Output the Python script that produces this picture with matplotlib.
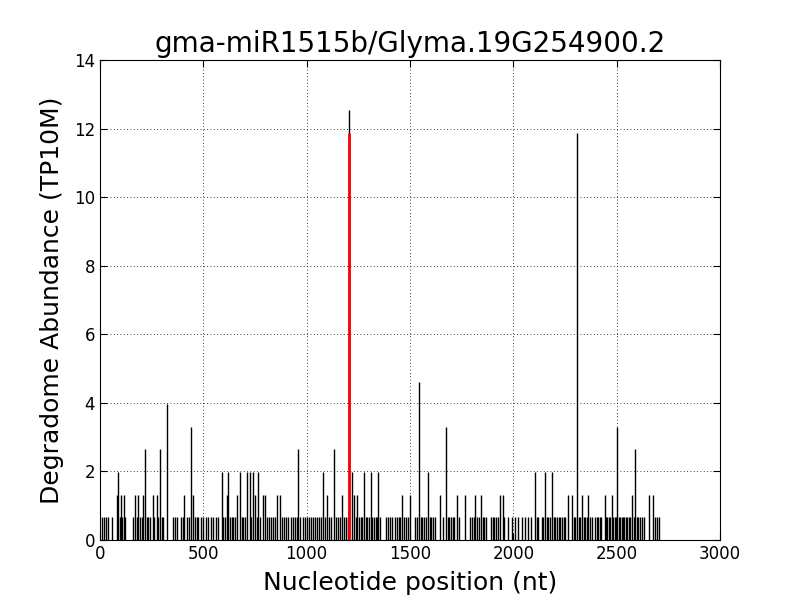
import numpy as np
import matplotlib
matplotlib.use("Agg")
import matplotlib.pyplot as plt

# ── Data: degradome tag positions (nt) grouped by abundance (TP10M) ──────────
TITLE = "gma-miR1515b/Glyma.19G254900.2"

pos_066 = [8, 19, 29, 40, 56, 95, 106, 122, 161, 177, 194, 202, 226, 234, 242, 261,
           282, 298, 306, 352, 363, 374, 392, 400, 419, 429, 460, 468, 476, 487,
           500, 511, 524, 535, 548, 561, 573, 597, 605, 629, 637, 645, 653, 685,
           693, 702, 729, 758, 776, 808, 816, 826, 835, 845, 880, 890, 902, 912,
           922, 932, 942, 952, 970, 980, 990, 1000, 1010, 1020, 1030, 1040, 1050,
           1060, 1070, 1090, 1110, 1120, 1142, 1152, 1160, 1180, 1190, 1198, 1237,
           1255, 1263, 1270, 1286, 1294, 1302, 1318, 1326, 1334, 1340, 1355, 1385,
           1395, 1405, 1415, 1425, 1435, 1445, 1452, 1470, 1480, 1488, 1524, 1532,
           1552, 1560, 1568, 1576, 1596, 1604, 1612, 1620, 1661, 1682, 1690, 1698,
           1706, 1714, 1735, 1792, 1800, 1808, 1824, 1832, 1852, 1860, 1868, 1892,
           1900, 1908, 1916, 1924, 1957, 1976, 1992, 2008, 2024, 2040, 2056, 2072,
           2086, 2113, 2121, 2138, 2145, 2162, 2170, 2178, 2195, 2203, 2212, 2220,
           2228, 2236, 2244, 2252, 2292, 2300, 2316, 2324, 2340, 2348, 2356, 2370,
           2380, 2395, 2403, 2411, 2418, 2424, 2448, 2455, 2463, 2470, 2484, 2490,
           2497, 2510, 2516, 2524, 2530, 2537, 2545, 2552, 2560, 2566, 2583, 2597,
           2605, 2613, 2622, 2630, 2686, 2697, 2706]
pos_132 = [84, 100, 116, 169, 185, 210, 255, 274, 406, 452, 613, 664, 750, 787,
           799, 858, 871, 1100, 1170, 1229, 1245, 1460, 1500, 1645, 1726, 1766,
           1815, 1844, 1936, 1949, 2266, 2286, 2334, 2363, 2444, 2476, 2576, 2658,
           2678]
pos_198 = [89, 589, 621, 677, 711, 724, 738, 766, 1081, 1218, 1278, 1310, 1347,
           1586, 2105, 2153, 2186]
pos_264 = [218, 290, 960, 1132, 2589]
pos_330 = [439, 1674, 2503]
pos_396 = [326]
pos_462 = [1544]
pos_1188 = [2307]
pos_1254 = [1207]

# cleavage site (red)
cleave_pos = [1205]
cleave_val = [11.88]

levels = [(pos_066, 0.66), (pos_132, 1.32), (pos_198, 1.98), (pos_264, 2.64),
          (pos_330, 3.30), (pos_396, 3.96), (pos_462, 4.62), (pos_1188, 11.88),
          (pos_1254, 12.54)]

fig = plt.figure(figsize=(8, 6), dpi=100)
ax = fig.add_axes([0.125, 0.1, 0.775, 0.8])

for pos, val in levels:
    ax.vlines(pos, 0, val, colors="black", linewidth=1.0)
ax.vlines(cleave_pos, 0, cleave_val, colors="red", linewidth=2.0)

ax.set_xlim(0, 3000)
ax.set_ylim(0, 14)
ax.set_xticks(np.arange(0, 3001, 500))
ax.set_yticks(np.arange(0, 15, 2))
ax.grid(True, color="black", linestyle=(0, (1, 3)), linewidth=0.6)
ax.set_axisbelow(True)
ax.tick_params(direction="in", top=True, right=True, labelsize=12, length=5)

ax.set_title(TITLE, fontsize=20)
ax.set_xlabel("Nucleotide position (nt)", fontsize=18, labelpad=6)
ax.set_ylabel("Degradome Abundance (TP10M)", fontsize=18, labelpad=7)

fig.savefig("out.png", dpi=100)
